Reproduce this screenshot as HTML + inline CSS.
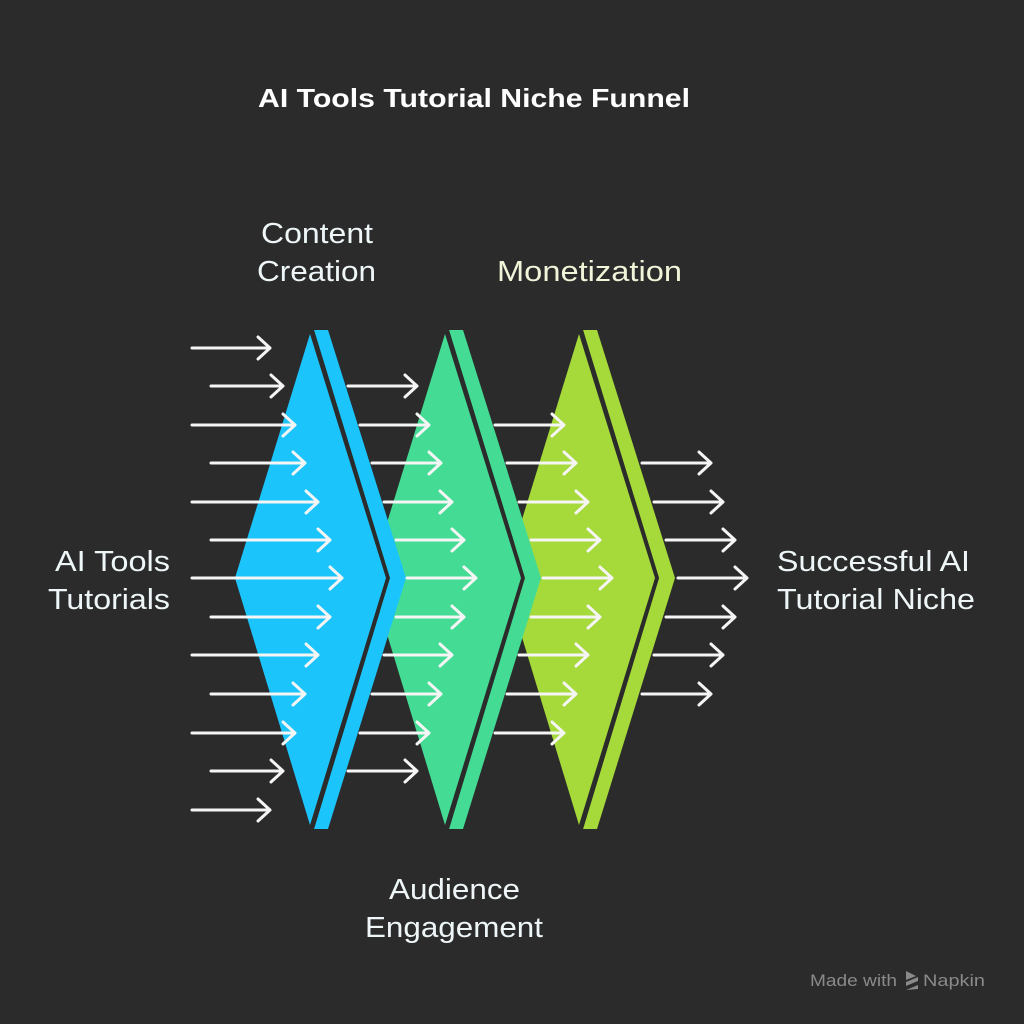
<!DOCTYPE html>
<html><head><meta charset="utf-8"><style>
html,body{margin:0;padding:0;background:#2b2b2b;}
svg{display:block}
text{font-family:"Liberation Sans",sans-serif;}
</style></head><body>
<svg width="1024" height="1024" viewBox="0 0 1024 1024" xmlns="http://www.w3.org/2000/svg">
<rect width="1024" height="1024" fill="#2b2b2b"/>
<text x="258" y="107" textLength="432" lengthAdjust="spacingAndGlyphs" font-size="26" font-weight="bold" fill="#ffffff">AI Tools Tutorial Niche Funnel</text>
<g id="shapes">
<!-- shape 3 -->
<polygon points="583,330 597,330 675,578 597,829 583,829 659,578" fill="#a6d93a"/>
<polygon points="575,330 583,330 659,578 583,829 575,829 651,578" fill="#2b2b2b"/>
<polygon points="579,334 655,578 579,825 504,578" fill="#a6d93a"/>
<!-- shape 2 -->
<polygon points="449,330 463,330 541,578 463,829 449,829 525,578" fill="#44dc94"/>
<polygon points="441,330 449,330 525,578 449,829 441,829 517,578" fill="#2b2b2b"/>
<polygon points="445,334 521,578 445,825 370,578" fill="#44dc94"/>
<!-- shape 1 -->
<polygon points="314,330 328,330 406,578 328,829 314,829 390,578" fill="#1cc4fc"/>
<polygon points="306,330 314,330 390,578 314,829 306,829 382,578" fill="#2b2b2b"/>
<polygon points="310,334 386,578 310,825 235,578" fill="#1cc4fc"/>
</g>
<g stroke="#f5f5f5" stroke-width="3" fill="none" stroke-linecap="round" stroke-linejoin="round">
<path d="M192,348H270M258,337L270,348L258,359"/>
<path d="M211,386H283M271,375L283,386L271,397"/>
<path d="M192,425H295M283,414L295,425L283,436"/>
<path d="M211,463H305M293,452L305,463L293,474"/>
<path d="M192,502H318M306,491L318,502L306,513"/>
<path d="M211,540H330M318,529L330,540L318,551"/>
<path d="M192,578H342M330,567L342,578L330,589"/>
<path d="M211,617H330M318,606L330,617L318,628"/>
<path d="M192,655H318M306,644L318,655L306,666"/>
<path d="M211,694H305M293,683L305,694L293,705"/>
<path d="M192,733H295M283,722L295,733L283,744"/>
<path d="M211,771H283M271,760L283,771L271,782"/>
<path d="M192,810H270M258,799L270,810L258,821"/>
<path d="M348,386H417M405,375L417,386L405,397"/>
<path d="M360,425H429M417,414L429,425L417,436"/>
<path d="M372,463H441M429,452L441,463L429,474"/>
<path d="M384,502H452M440,491L452,502L440,513"/>
<path d="M396,540H464M452,529L464,540L452,551"/>
<path d="M407,578H476M464,567L476,578L464,589"/>
<path d="M396,617H464M452,606L464,617L452,628"/>
<path d="M384,655H452M440,644L452,655L440,666"/>
<path d="M372,694H441M429,683L441,694L429,705"/>
<path d="M360,733H429M417,722L429,733L417,744"/>
<path d="M348,771H417M405,760L417,771L405,782"/>
<path d="M495,425H564M552,414L564,425L552,436"/>
<path d="M507,463H576M564,452L576,463L564,474"/>
<path d="M519,502H588M576,491L588,502L576,513"/>
<path d="M531,540H600M588,529L600,540L588,551"/>
<path d="M543,578H612M600,567L612,578L600,589"/>
<path d="M531,617H600M588,606L600,617L588,628"/>
<path d="M519,655H588M576,644L588,655L576,666"/>
<path d="M507,694H576M564,683L576,694L564,705"/>
<path d="M495,733H564M552,722L564,733L552,744"/>
<path d="M642,463H711M699,452L711,463L699,474"/>
<path d="M654,502H723M711,491L723,502L711,513"/>
<path d="M666,540H735M723,529L735,540L723,551"/>
<path d="M678,578H747M735,567L747,578L735,589"/>
<path d="M666,617H735M723,606L735,617L723,628"/>
<path d="M654,655H723M711,644L723,655L711,666"/>
<path d="M642,694H711M699,683L711,694L699,705"/>
</g>
<g font-size="29" fill="#eef6f8" lengthAdjust="spacingAndGlyphs">
<text x="261" y="243" textLength="112" lengthAdjust="spacingAndGlyphs">Content</text>
<text x="257" y="281" textLength="119" lengthAdjust="spacingAndGlyphs">Creation</text>
<text x="497" y="281" textLength="185" lengthAdjust="spacingAndGlyphs" fill="#eef5d8">Monetization</text>
<text x="389" y="899" textLength="131" lengthAdjust="spacingAndGlyphs">Audience</text>
<text x="365" y="937" textLength="178" lengthAdjust="spacingAndGlyphs">Engagement</text>
<text x="55" y="571" textLength="115" lengthAdjust="spacingAndGlyphs">AI Tools</text>
<text x="48" y="609" textLength="122" lengthAdjust="spacingAndGlyphs">Tutorials</text>
<text x="777" y="571" textLength="193" lengthAdjust="spacingAndGlyphs">Successful AI</text>
<text x="777" y="609" textLength="198" lengthAdjust="spacingAndGlyphs">Tutorial Niche</text>
</g>
<text x="810" y="986" font-size="17" textLength="87" lengthAdjust="spacingAndGlyphs" fill="#8a8a8a">Made with</text>
<g fill="#8a8a8a"><path d="M906,971l10,5l-10,4z M906,982l12,-5l0,4l-12,5z M906,990l12,-5l0,4z"/></g>
<text x="923" y="986" font-size="17" textLength="62" lengthAdjust="spacingAndGlyphs" fill="#8a8a8a">Napkin</text>
</svg>
</body></html>
